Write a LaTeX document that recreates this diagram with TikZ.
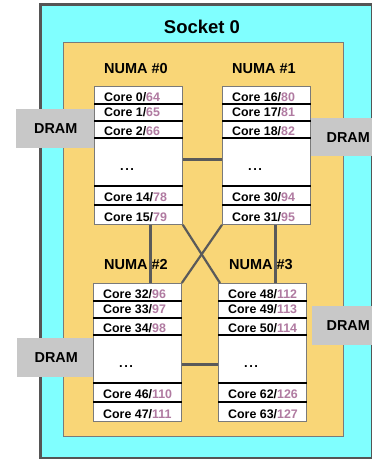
\documentclass[tikz,border=0pt]{standalone}
\usepackage{fontspec}
\setmainfont{Liberation Sans}
\usetikzlibrary{calc}
\definecolor{cyanbg}{HTML}{80FFFF}
\definecolor{orangebg}{HTML}{F9D677}
\definecolor{dramgray}{HTML}{C8C8C8}
\definecolor{sockline}{HTML}{555555}
\definecolor{linkgray}{HTML}{5A5A5A}
\definecolor{boxline}{HTML}{7A7A7A}
\definecolor{mauve}{HTML}{B07AA1}
\newcommand\mv[1]{\textcolor{mauve}{#1}}
\tikzset{
  socketbox/.style={draw=sockline, line width=3pt, fill=cyanbg, minimum width=332pt, minimum height=454pt, inner sep=0pt, anchor=north west},
  numabox/.style={draw=boxline, line width=0.8pt, fill=orangebg, minimum width=280pt, minimum height=394pt, inner sep=0pt, anchor=north west},
  drambox/.style={fill=dramgray, inner sep=0pt, anchor=north west, font=\bfseries\fontsize{14.4}{14}\selectfont},
  colbox/.style={draw=boxline, line width=0.8pt, fill=white, minimum width=88pt, minimum height=138pt, inner sep=0pt, anchor=north west},
  sepline/.style={black, line width=1.6pt},
  link/.style={draw=linkgray, line width=2.2pt},
  coretxt/.style={font=\bfseries\fontsize{12.4}{12}\selectfont, inner sep=0pt, anchor=base west},
  dotstxt/.style={font=\bfseries\fontsize{13}{13}\selectfont, inner sep=0pt, anchor=base west},
  titletxt/.style={font=\bfseries\fontsize{18.5}{18}\selectfont, inner sep=0pt, anchor=base},
  numatxt/.style={font=\bfseries\fontsize{14.5}{14}\selectfont, inner sep=0pt, anchor=base}
}
\newcommand\corecol[8]{%
  \node[colbox] (#1) at (#2,#3) {};
  \foreach \o in {18,35,52,100,119}
    \draw[sepline] ([yshift=-\o pt]#1.north west) -- ([yshift=-\o pt]#1.north east);
  \node[coretxt] (#1-a) at ([xshift=10pt,yshift=-15pt]#1.north west) {#4};
  \node[coretxt] (#1-b) at ([xshift=10pt,yshift=-30.5pt]#1.north west) {#5};
  \node[coretxt] (#1-c) at ([xshift=10pt,yshift=-49pt]#1.north west) {#6};
  \node[dotstxt] (#1-d) at ([xshift=26pt,yshift=-84pt]#1.north west) {.\kern1.5pt.\kern1.5pt.};
  \node[coretxt] (#1-e) at ([xshift=10pt,yshift=-115pt]#1.north west) {#7};
  \node[coretxt] (#1-f) at ([xshift=10pt,yshift=-135pt]#1.north west) {#8};
}
\begin{document}
\begin{tikzpicture}[x=1pt,y=-1pt]
\useasboundingbox (0,0) rectangle (372,459);
\clip (0,0) rectangle (372,459);
\node[socketbox] (socket) at (38.5,3) {};
\node[numabox] (numa) at (63,42) {};
\node[titletxt] (title) at (202,33) {Socket 0};
\node[numatxt] (l0) at (136,73) {NUMA \#0};
\node[numatxt] (l1) at (264,73) {NUMA \#1};
\node[numatxt] (l2) at (136,269) {NUMA \#2};
\node[numatxt] (l3) at (261,269) {NUMA \#3};
\node[drambox, minimum width=79pt, minimum height=39pt] (d0) at (16,109) {DRAM};
\node[drambox, minimum width=74pt, minimum height=38pt] (d1) at (311,118) {DRAM};
\node[drambox, minimum width=78pt, minimum height=39pt] (d2) at (17,338) {DRAM};
\node[drambox, minimum width=72pt, minimum height=39pt] (d3) at (312,306) {DRAM};
\corecol{c0}{94}{86}{Core 0/\mv{64}}{Core 1/\mv{65}}{Core 2/\mv{66}}{Core 14/\mv{78}}{Core 15/\mv{79}}
\corecol{c1}{222}{86}{Core 16/\mv{80}}{Core 17/\mv{81}}{Core 18/\mv{82}}{Core 30/\mv{94}}{Core 31/\mv{95}}
\corecol{c2}{93}{283}{Core 32/\mv{96}}{Core 33/\mv{97}}{Core 34/\mv{98}}{Core 46/\mv{110}}{Core 47/\mv{111}}
\corecol{c3}{218}{283}{Core 48/\mv{112}}{Core 49/\mv{113}}{Core 50/\mv{114}}{Core 62/\mv{126}}{Core 63/\mv{127}}
\draw[link] ([yshift=-4pt]c0.east) -- ([yshift=-4pt]c0.east -| c1.west);
\draw[link] ([yshift=-12pt]c2.east) -- ([yshift=-12pt]c2.east -| c3.west);
\draw[link] ([xshift=12pt]c0.south) -- ([xshift=12pt]c0.south |- c2.north);
\draw[link] ([xshift=9pt]c1.south) -- ([xshift=9pt]c1.south |- c3.north);
\draw[link] (c0.south east) -- ([xshift=2pt]c3.north west);
\draw[link] (c1.south west) -- (c2.north east);
\end{tikzpicture}
\end{document}
